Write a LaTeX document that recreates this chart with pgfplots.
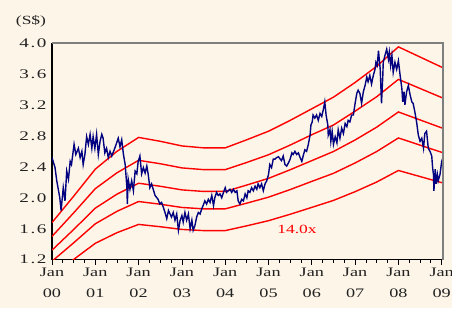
\documentclass[border=0pt]{standalone}
\usepackage{fontspec}
\setmainfont{Liberation Serif}[FakeStretch=1.4]
\newfontfamily\ylabfont{Liberation Serif}[FakeStretch=1.45, LetterSpace=12]
\usepackage{pgfplots}
\pgfplotsset{compat=1.18}
\definecolor{bg}{HTML}{FDF5E8}
\definecolor{navy}{HTML}{000080}
\definecolor{txt}{HTML}{222222}
\definecolor{frame}{HTML}{7F7F7F}
\begin{document}
\begin{tikzpicture}
\useasboundingbox (-52pt,-48.3pt) rectangle (400pt,259.7pt);
\fill[bg] (-52pt,-48.3pt) rectangle (400pt,259.7pt);
\begin{axis}[
  at={(0,0)}, anchor=south west, scale only axis,
  width=391pt, height=216.7pt,
  xmin=0, xmax=9.03, ymin=1.2, ymax=4.0,
  axis x line*=bottom, axis y line*=left,
  axis line style={-, black, line width=1.1pt},
  xtick={0,1,2,3,4,5,6,7,8,9}, minor x tick num=3,
  xticklabels={Jan\\00,Jan\\01,Jan\\02,Jan\\03,Jan\\04,Jan\\05,Jan\\06,Jan\\07,Jan\\08,Jan\\09},
  tick align=outside, major tick length=5pt, minor tick length=3pt,
  tick style={black, line width=0.8pt},
  ytick={1.2,1.6,2.0,2.4,2.8,3.2,3.6,4.0},
  y tick style={draw=none},
  /pgf/number format/assume math mode=true,
  x tick label style={align=center, font=\fontsize{13}{20.5}\selectfont, text=txt},
  y tick label style={font=\ylabfont\fontsize{13.2}{15}\selectfont, text=txt, xshift=3pt,
     /pgf/number format/.cd, fixed, fixed zerofill, precision=1, /tikz/.cd},
]
% P/E bands
\addplot[red, line width=1.4pt] coordinates {(0,1.68)(0.5,2.02)(1,2.37)(1.5,2.60)(2,2.78)(2.5,2.73)(3,2.67)(3.5,2.645)(4,2.645)(4.5,2.75)(5,2.86)(5.5,3.00)(6,3.15)(6.5,3.30)(7,3.49)(7.5,3.70)(8,3.95)(9.03,3.68)};
\addplot[red, line width=1.4pt] coordinates {(0,1.501)(0.5,1.805)(1,2.118)(1.5,2.323)(2,2.484)(2.5,2.440)(3,2.386)(3.5,2.364)(4,2.364)(4.5,2.457)(5,2.556)(5.5,2.681)(6,2.815)(6.5,2.940)(7,3.119)(7.5,3.306)(8,3.530)(9.03,3.288)};
\addplot[red, line width=1.4pt] coordinates {(0,1.323)(0.5,1.590)(1,1.866)(1.5,2.047)(2,2.188)(2.5,2.149)(3,2.102)(3.5,2.082)(4,2.082)(4.5,2.165)(5,2.251)(5.5,2.362)(6,2.480)(6.5,2.598)(7,2.747)(7.5,2.913)(8,3.109)(9.03,2.897)};
\addplot[red, line width=1.4pt] coordinates {(0,1.180)(0.5,1.418)(1,1.664)(1.5,1.825)(2,1.952)(2.5,1.917)(3,1.875)(3.5,1.857)(4,1.857)(4.5,1.931)(5,2.008)(5.5,2.106)(6,2.212)(6.5,2.316)(7,2.450)(7.5,2.598)(8,2.773)(9.03,2.582)};
\addplot[red, line width=1.4pt] coordinates {(0,1.001)(0.5,1.203)(1,1.412)(1.5,1.549)(2,1.656)(2.5,1.626)(3,1.591)(3.5,1.576)(4,1.576)(4.5,1.638)(5,1.704)(5.5,1.787)(6,1.876)(6.5,1.966)(7,2.079)(7.5,2.204)(8,2.353)(9.03,2.191)};
% share price
\addplot[navy, line width=1.4pt] coordinates {
(0.00,2.52)(0.07,2.39)(0.11,2.22)(0.18,2.00)(0.21,1.835)(0.26,2.13)(0.30,1.96)(0.34,2.345)(0.38,2.24)(0.42,2.47)
(0.45,2.43)(0.51,2.69)(0.55,2.56)(0.61,2.64)(0.65,2.52)(0.69,2.60)(0.72,2.43)(0.76,2.56)(0.80,2.79)(0.84,2.69)
(0.88,2.82)(0.92,2.64)(0.95,2.79)(0.99,2.64)(1.03,2.82)(1.07,2.56)(1.11,2.73)(1.15,2.82)(1.18,2.77)(1.22,2.58)
(1.26,2.64)(1.30,2.52)(1.34,2.60)(1.38,2.54)(1.45,2.64)(1.53,2.77)(1.57,2.66)(1.61,2.75)(1.65,2.56)(1.69,2.43)
(1.73,2.13)(1.74,1.92)(1.76,2.24)(1.80,2.11)(1.84,2.22)(1.88,2.09)(1.92,2.345)(1.96,2.31)(1.99,2.47)(2.03,2.54)
(2.07,2.31)(2.11,2.39)(2.15,2.32)(2.19,2.41)(2.22,2.31)(2.26,2.13)(2.30,2.18)(2.38,2.03)(2.45,1.98)(2.49,1.92)
(2.53,1.94)(2.57,1.88)(2.61,1.81)(2.65,1.73)(2.69,1.835)(2.76,1.75)(2.80,1.81)(2.84,1.71)(2.88,1.79)(2.92,1.58)
(2.96,1.71)(3.00,1.77)(3.03,1.685)(3.07,1.81)(3.11,1.71)(3.15,1.79)(3.19,1.60)(3.23,1.71)(3.26,1.58)(3.30,1.64)
(3.34,1.75)(3.38,1.81)(3.42,1.79)(3.46,1.86)(3.49,1.90)(3.53,1.96)(3.57,1.92)(3.61,1.98)(3.65,1.94)(3.69,2.03)
(3.73,1.90)(3.76,2.00)(3.80,2.07)(3.84,2.03)(3.88,2.05)(3.92,2.00)(3.96,2.07)(4.00,2.13)(4.03,2.07)(4.07,2.09)
(4.11,2.11)(4.15,2.07)(4.19,2.11)(4.23,2.07)(4.27,2.09)(4.30,1.96)(4.34,1.92)(4.38,1.98)(4.42,1.96)(4.46,2.05)
(4.50,2.00)(4.53,2.09)(4.57,2.07)(4.61,2.13)(4.65,2.09)(4.69,2.15)(4.73,2.11)(4.76,2.18)(4.80,2.13)(4.84,2.18)
(4.88,2.09)(4.92,2.18)(4.96,2.22)(5.00,2.30)(5.03,2.43)(5.07,2.39)(5.11,2.50)(5.15,2.50)(5.19,2.52)(5.23,2.53)
(5.27,2.50)(5.30,2.48)(5.34,2.54)(5.38,2.43)(5.42,2.41)(5.46,2.45)(5.50,2.50)(5.54,2.58)(5.57,2.56)(5.61,2.60)
(5.65,2.56)(5.69,2.58)(5.73,2.52)(5.77,2.47)(5.80,2.54)(5.84,2.62)(5.88,2.60)(5.92,2.69)(5.96,2.81)(5.98,2.94)
(6.01,2.98)(6.03,3.07)(6.07,3.03)(6.11,3.07)(6.15,3.00)(6.19,3.09)(6.23,3.05)(6.27,3.15)(6.30,3.24)(6.33,3.07)
(6.37,2.94)(6.38,2.81)(6.42,2.88)(6.44,2.73)(6.47,2.86)(6.50,2.69)(6.54,2.79)(6.58,2.71)(6.61,2.88)(6.65,2.77)
(6.69,2.90)(6.73,2.83)(6.77,2.96)(6.81,2.92)(6.84,3.00)(6.88,2.98)(6.92,3.07)(6.96,3.07)(7.00,3.22)(7.04,3.35)
(7.07,3.39)(7.11,3.35)(7.15,3.22)(7.19,3.37)(7.23,3.45)(7.27,3.56)(7.30,3.50)(7.34,3.58)(7.38,3.47)(7.42,3.58)
(7.46,3.66)(7.48,3.75)(7.51,3.71)(7.54,3.90)(7.58,3.66)(7.61,3.22)(7.64,3.58)(7.65,3.75)(7.69,3.84)(7.73,3.92)
(7.77,3.79)(7.79,3.88)(7.82,3.71)(7.85,3.84)(7.88,3.62)(7.92,3.75)(7.96,3.66)(8.00,3.77)(8.04,3.58)(8.08,3.41)
(8.10,3.24)(8.13,3.37)(8.15,3.20)(8.19,3.37)(8.23,3.45)(8.27,3.33)(8.31,3.24)(8.34,3.22)(8.38,3.11)(8.42,2.98)
(8.46,2.81)(8.50,2.73)(8.54,2.77)(8.58,2.64)(8.61,2.83)(8.65,2.86)(8.69,2.64)(8.73,2.60)(8.77,2.54)(8.79,2.39)
(8.81,2.30)(8.82,2.09)(8.85,2.37)(8.87,2.18)(8.90,2.30)(8.92,2.22)(8.96,2.30)(9.00,2.47)(9.03,2.52)};
\end{axis}
\draw[frame, line width=1.2pt] (0,216.7pt) -- (391pt,216.7pt) -- (391pt,0);
\node[font=\fontsize{12.5}{15}\selectfont, text=txt] at (-21pt,238.7pt) {(S\$)};
\node[font=\fontsize{12.5}{15}\selectfont, text=red] at (245pt,30pt) {14.0x};
\end{tikzpicture}
\end{document}
